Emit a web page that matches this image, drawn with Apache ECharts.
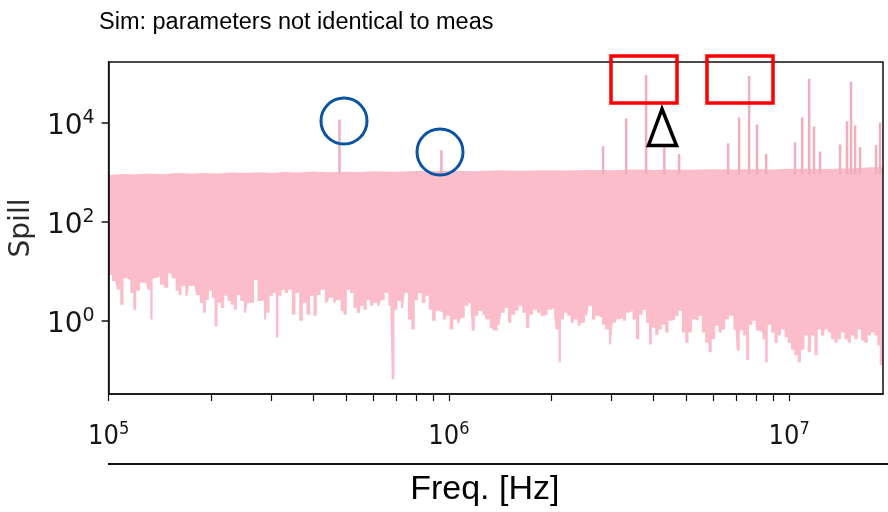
<!DOCTYPE html>
<html><head><meta charset="utf-8">
<script src="https://cdn.jsdelivr.net/npm/echarts@6/dist/echarts.min.js"></script>
<style>html,body{margin:0;padding:0;background:#fff}#c{width:888px;height:512px}</style>
</head><body><div id="c"></div>
<script>
// lower envelope of the simulated spill spectrum (Hz, spill)
const lowerFreq = [
1.000e5,1.046e5,1.070e5,1.094e5,1.119e5,1.145e5,1.171e5,1.192e5,1.219e5,1.253e5,1.287e5,1.316e5,1.335e5,1.359e5,1.396e5,1.434e5,1.473e5,1.521e5,1.555e5,1.591e5,1.620e5,1.657e5,1.703e5,1.741e5,1.789e5,1.829e5,1.879e5,1.914e5,1.949e5,1.993e5,2.030e5,2.066e5,2.114e5,2.162e5,2.211e5,2.262e5,2.313e5,2.356e5,2.409e5,2.463e5,2.531e5,2.590e5,2.648e5,2.708e5,2.771e5,2.858e5,
2.872e5,2.937e5,3.005e5,3.073e5,3.130e5,3.185e5,3.259e5,3.333e5,3.408e5,3.501e5,3.583e5,3.681e5,3.764e5,3.867e5,3.955e5,4.046e5,4.137e5,4.260e5,4.388e5,4.508e5,4.632e5,4.736e5,4.876e5,4.956e5,5.068e5,5.182e5,5.303e5,5.422e5,5.545e5,5.674e5,5.801e5,5.932e5,6.070e5,6.249e5,6.408e5,6.551e5,6.731e5,6.855e5,6.977e5,7.139e5,7.335e5,7.501e5,7.671e5,7.850e5,8.027e5,8.208e5,
8.433e5,8.630e5,8.825e5,9.024e5,9.271e5,9.487e5,9.701e5,9.920e5,1.019e6,1.043e6,1.072e6,1.101e6,1.126e6,1.157e6,1.178e6,1.205e6,1.237e6,1.272e6,1.300e6,1.336e6,1.372e6,1.410e6,1.443e6,1.476e6,1.509e6,1.544e6,1.586e6,1.622e6,1.666e6,1.704e6,1.744e6,1.791e6,1.840e6,1.882e6,1.924e6,1.977e6,2.032e6,2.087e6,2.116e6,2.154e6,2.203e6,2.254e6,2.305e6,2.357e6,
2.422e6,2.478e6,2.546e6,2.604e6,2.663e6,2.724e6,2.786e6,2.849e6,2.915e6,2.995e6,3.063e6,3.132e6,3.204e6,3.277e6,3.351e6,3.429e6,3.506e6,3.585e6,3.669e6,3.752e6,3.837e6,3.907e6,3.995e6,4.088e6,4.180e6,4.274e6,4.373e6,4.472e6,4.573e6,4.679e6,4.786e6,4.894e6,5.008e6,5.121e6,5.236e6,5.357e6,5.478e6,5.602e6,5.732e6,5.861e6,5.994e6,6.134e6,6.272e6,6.414e6,6.561e6,6.769e6,
6.955e6,7.083e6,7.243e6,7.412e6,7.543e6,7.718e6,7.892e6,8.071e6,8.257e6,8.445e6,8.560e6,8.754e6,8.956e6,9.159e6,9.366e6,9.583e6,9.800e6,1.002e7,1.025e7,1.048e7,1.072e7,1.097e7,1.122e7,1.147e7,1.174e7,1.200e7,1.227e7,1.256e7,1.284e7,1.313e7,1.344e7,1.374e7,1.405e7,1.438e7,1.470e7,1.503e7,1.538e7,1.573e7,1.609e7,1.646e7,1.683e7,1.722e7,1.762e7,1.801e7,1.834e7,1.859e7,1.888e7
];
const lowerSpill = [
8.3,6.3,4.2,2.1,7.2,6.6,3.6,1.66,4.0,5.8,5.8,4.2,1.05,7.2,7.9,5.3,4.6,9.1,7.2,4.0,3.3,5.0,3.2,5.0,5.0,3.3,2.3,1.45,2.6,4.0,2.9,0.76,2.3,1.8,3.2,2.5,2.1,1.66,3.3,2.5,1.45,2.3,2.3,6.6,2.5,2.6,
1.05,1.45,3.2,3.6,0.46,3.2,4.2,3.6,4.2,1.32,3.6,1.0,2.3,1.32,3.2,1.26,3.3,4.2,2.3,2.9,2.3,2.6,1.58,1.32,4.2,3.6,1.8,1.45,2.0,1.66,2.6,2.0,2.3,2.0,2.6,3.6,2.0,0.066,1.66,2.5,1.8,3.6,1.05,0.66,2.6,3.6,
2.3,3.2,1.66,1.0,1.58,1.45,1.05,1.26,0.66,1.05,0.91,1.15,2.0,2.3,0.63,1.26,1.58,1.32,1.05,0.72,0.63,0.83,1.45,1.8,0.91,1.32,1.58,2.0,1.45,0.72,1.32,1.66,1.45,1.26,1.32,1.66,1.8,0.66,0.145,1.05,1.45,1.26,0.91,1.05,
0.79,0.91,1.26,2.0,1.05,1.26,1.15,0.83,0.66,0.33,0.91,1.05,1.15,1.0,1.45,1.58,1.05,0.42,1.32,1.66,0.91,0.33,0.72,0.52,0.66,0.83,0.58,1.0,1.05,1.26,1.58,0.58,0.36,0.58,1.05,1.0,1.26,0.58,0.36,0.23,0.42,0.79,0.58,0.66,1.05,1.26,
0.66,0.25,0.63,0.50,0.16,0.83,1.0,0.63,0.58,0.42,0.145,0.83,0.58,0.36,0.50,0.66,0.46,0.36,0.26,0.20,0.145,0.26,0.50,0.23,0.50,0.20,0.66,0.50,0.66,0.58,0.42,0.36,0.42,0.58,0.42,0.36,0.50,0.42,0.66,0.40,0.36,0.50,0.58,0.50,0.32,0.126,0.126
];
// upper envelope of the noise floor
const upperFreq = [1.00e5,1.10e5,1.20e5,1.30e5,1.45e5,1.60e5,1.75e5,1.90e5,2.10e5,2.30e5,2.50e5,2.80e5,3.00e5,3.30e5,3.60e5,4.00e5,4.40e5,5.00e5,5.50e5,6.00e5,7.00e5,8.00e5,9.00e5,1.00e6,1.20e6,1.40e6,1.60e6,1.90e6,2.20e6,2.60e6,3.00e6,3.50e6,4.00e6,4.50e6,5.00e6,6.00e6,7.00e6,8.00e6,9.00e6,1.00e7,1.20e7,1.40e7,1.60e7,1.75e7,1.888e7];
const upperSpill = [870,910,890,930,900,950,920,960,930,980,950,990,960,1000,980,1020,990,1010,1000,1040,1010,1050,1030,1060,1040,1080,1060,1090,1070,1100,1090,1120,1100,1130,1110,1140,1120,1150,1130,1160,1150,1170,1200,1250,1250];
// narrow spectral lines
const peakFreq = [4.77e5,9.51e5,2.84e6,3.32e6,3.80e6,4.30e6,4.75e6,6.62e6,7.13e6,7.63e6,8.05e6,8.56e6,1.041e7,1.092e7,1.145e7,1.184e7,1.233e7,1.412e7,1.480e7,1.521e7,1.563e7,1.616e7,1.801e7,1.851e7];
const peakSpill = [11500,2750,3300,12000,91000,3300,2300,3800,12600,87000,9100,2300,4000,12600,76000,8300,2600,3600,10500,66000,8700,3200,3500,10000];
const peakBase = 900;
// axis ticks
const xTickValues = [1e5,2e5,3e5,4e5,5e5,6e5,7e5,8e5,9e5,1e6,2e6,3e6,4e6,5e6,6e6,7e6,8e6,9e6,1e7];
const xLabelValues = [1e5,1e6,1e7];
const yTickValues = [1,100,10000];

const PINK = '#fabdc9';
const PEAK = '#f0adbb';
const peakData = [];
peakFreq.forEach((f, i) => { peakData.push([f, peakBase], [f, peakSpill[i]], [f, '-']); });

const supFmt = v => '{b|10}{s|' + Math.round(Math.log10(v)) + '}';
const richY = {
  b: {fontSize: 28, lineHeight: 28, padding: [8, 0, 0, 0], fontFamily: 'DejaVu Sans', color: '#151515'},
  s: {fontSize: 19, lineHeight: 19, verticalAlign: 'top', fontFamily: 'DejaVu Sans', color: '#151515'}
};
const condensed = "'Liberation Sans Narrow','DejaVu Sans Condensed','DejaVu Sans'";
const richX = {
  b: {fontSize: 27, lineHeight: 27, padding: [7, 0, 0, 0], fontFamily: condensed, color: '#151515'},
  s: {fontSize: 18, lineHeight: 18, verticalAlign: 'top', fontFamily: condensed, color: '#151515'}
};

const chart = echarts.init(document.getElementById('c'));
chart.setOption({
  animation: false,
  backgroundColor: '#fff',
  title: {text: 'Sim: parameters not identical to meas', left: 94, top: 6,
    textStyle: {fontSize: 23.5, fontWeight: 'normal', fontFamily: 'Liberation Sans', color: '#000'}},
  grid: {left: 108, right: 5, top: 62, bottom: 115, show: true, borderColor: '#111', borderWidth: 1.5, backgroundColor: 'transparent', z: 20},
  xAxis: {
    type: 'log', logBase: 10, min: 1e5, max: 1.888e7, z: 20,
    axisLine: {show: true, onZero: false, lineStyle: {color: '#111', width: 1.5}},
    axisTick: {show: true, customValues: xTickValues, length: 7, lineStyle: {color: '#111', width: 1.2}},
    axisLabel: {customValues: xLabelValues, margin: 26, formatter: supFmt, rich: richX},
    splitLine: {show: false}, minorTick: {show: false}, minorSplitLine: {show: false},
    name: 'Freq. [Hz]', nameLocation: 'middle', nameGap: 79,
    nameTextStyle: {fontSize: 34, fontFamily: 'Liberation Sans', color: '#000', padding: [0, 22, 0, 0]}
  },
  yAxis: {
    type: 'log', logBase: 10, min: 0.0331, max: 1.66e5, z: 20,
    axisLine: {show: true, onZero: false, lineStyle: {color: '#111', width: 1.5}},
    axisTick: {show: true, customValues: yTickValues, length: 7, lineStyle: {color: '#111', width: 1.5}},
    axisLabel: {customValues: yTickValues, margin: 14, formatter: supFmt, rich: richY},
    splitLine: {show: false}, minorTick: {show: false},
    name: 'Spill', nameLocation: 'middle', nameGap: 63, nameRotate: 90,
    nameTextStyle: {fontSize: 28, fontFamily: 'DejaVu Sans', color: '#2a2a2a'}
  },
  series: [
    {type: 'line', name: 'upper', data: upperFreq.map((f, i) => [f, upperSpill[i]]), symbol: 'none', silent: true,
      lineStyle: {opacity: 0}, areaStyle: {color: PINK, opacity: 1, origin: 'start'}, z: 2},
    {type: 'line', name: 'lower', data: lowerFreq.map((f, i) => [f, lowerSpill[i]]), symbol: 'none', silent: true, step: 'middle',
      lineStyle: {opacity: 0}, areaStyle: {color: '#ffffff', opacity: 1, origin: 'start'}, z: 3},
    {type: 'line', name: 'peaks', data: peakData, symbol: 'none', silent: true, connectNulls: false,
      lineStyle: {color: PEAK, width: 2.5}, z: 4}
  ],
  graphic: [
    {type: 'line', shape: {x1: 108, y1: 464, x2: 888, y2: 464}, style: {stroke: '#111', lineWidth: 2}, z: 30},
    {type: 'circle', shape: {cx: 344, cy: 121, r: 23}, style: {fill: null, stroke: '#0a54a3', lineWidth: 3}, z: 30},
    {type: 'circle', shape: {cx: 440, cy: 152, r: 23}, style: {fill: null, stroke: '#0a54a3', lineWidth: 3}, z: 30},
    {type: 'rect', shape: {x: 611, y: 56, width: 66, height: 47}, style: {fill: null, stroke: '#ff0000', lineWidth: 3.5}, z: 30},
    {type: 'rect', shape: {x: 707, y: 56, width: 66, height: 47}, style: {fill: null, stroke: '#ff0000', lineWidth: 3.5}, z: 30},
    {type: 'polygon', shape: {points: [[662, 109], [648.5, 145.5], [676.5, 145.5]]}, style: {fill: '#fff', stroke: '#000', lineWidth: 3.5}, z: 30}
  ]
});
</script></body></html>
